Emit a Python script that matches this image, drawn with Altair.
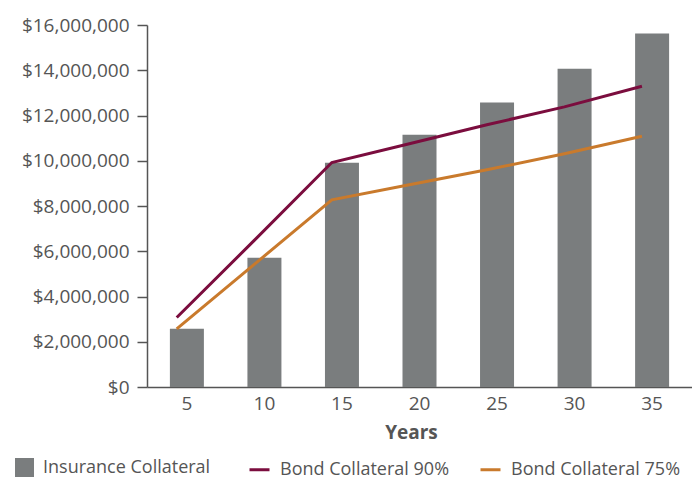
import altair as alt
import pandas as pd

years = [5, 10, 15, 20, 25, 30, 35]
insurance = [2570000, 5710000, 9910000, 11150000, 12570000, 14070000, 15620000]
bond90 = [3070000, 6480000, 9920000, 10750000, 11590000, 12380000, 13290000]
bond75 = [2570000, 5420000, 8270000, 8940000, 9600000, 10310000, 11080000]

FONT = "Open Sans"
TXT = "#555555"
FS = 19
LFS = 18

bars = pd.DataFrame({"Years": years, "value": insurance, "series": "Insurance Collateral"})
lines = pd.concat([
    pd.DataFrame({"Years": years, "value": bond90, "series": "Bond Collateral 90%"}),
    pd.DataFrame({"Years": years, "value": bond75, "series": "Bond Collateral 75%"}),
])

xscale = alt.Scale(paddingInner=0.563, paddingOuter=0.296)
yscale = alt.Scale(domain=[0, 16000000])

xaxis = alt.Axis(labelAngle=0, ticks=False, labelPadding=7, labelFontSize=FS,
                 labelColor=TXT, labelFont=FONT, domainColor="#555555", domainWidth=1.5,
                 title="Years", titleFont=FONT, titleFontSize=FS, titleFontWeight="bold",
                 titleColor=TXT, titlePadding=10, titleX=264)
yaxis = alt.Axis(values=list(range(0, 16000001, 2000000)), format="$,.0f", tickSize=10,
                 tickColor="#555555", tickWidth=1.5, domainColor="#555555", domainWidth=1.5,
                 labelPadding=8, labelFontSize=FS, labelColor=TXT, labelFont=FONT,
                 title=None, grid=False)

bar = alt.Chart(bars).mark_bar(size=34).encode(
    x=alt.X("Years:O", scale=xscale, axis=xaxis),
    y=alt.Y("value:Q", scale=yscale, axis=yaxis),
    fill=alt.Fill("series:N", scale=alt.Scale(domain=["Insurance Collateral"], range=["#7a7d7e"]),
                  legend=alt.Legend(title=None, orient="none", legendX=-132, legendY=433,
                                    symbolType="square", symbolSize=361, symbolStrokeWidth=0,
                                    labelFontSize=LFS, labelFont=FONT, labelColor=TXT,
                                    labelOffset=9, labelLimit=300)),
)

line = alt.Chart(lines).mark_line(strokeWidth=3).encode(
    x=alt.X("Years:O", scale=xscale, bandPosition=0.2),
    y=alt.Y("value:Q", scale=yscale),
    stroke=alt.Stroke("series:N",
                      scale=alt.Scale(domain=["Bond Collateral 90%", "Bond Collateral 75%"],
                                      range=["#7b0d3e", "#c97a2c"]),
                      legend=alt.Legend(title=None, orient="none", legendX=101, legendY=433,
                                        columns=2, symbolType="stroke",
                                        symbolSize=400, symbolStrokeWidth=3,
                                        labelFontSize=LFS, labelFont=FONT, labelColor=TXT,
                                        labelOffset=9, columnPadding=24, labelLimit=300)),
    detail="series:N",
)

chart = alt.layer(bar, line).properties(
    width=545, height=362,
    autosize=alt.AutoSizeParams(type="none"),
    padding={"left": 139, "top": 17, "right": 0, "bottom": 90},
).configure_view(stroke=None)

chart.save("out.html", embed_options={"renderer": "svg", "actions": False})
